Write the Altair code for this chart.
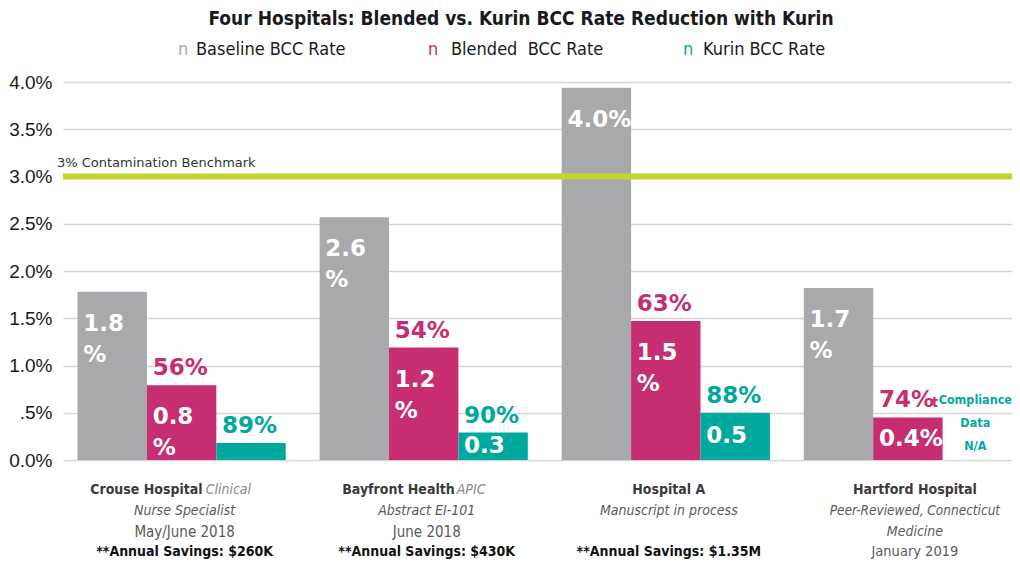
import altair as alt
import pandas as pd

# ---------------- data ----------------
hospitals = ["Crouse Hospital", "Bayfront Health", "Hospital A", "Hartford Hospital"]
series = ["Baseline BCC Rate", "Blended BCC Rate", "Kurin BCC Rate"]
series_colors = ["#a7a9ac", "#c62e71", "#00a99d"]

baseline_rate = [1.78, 2.57, 3.94, 1.82]
blended_rate = [0.79, 1.19, 1.47, 0.45]
kurin_rate = [0.18, 0.29, 0.50, None]

baseline_text = ["1.8\n%", "2.6\n%", "4.0%", "1.7\n%"]
blended_text = ["0.8\n%", "1.2\n%", "1.5\n%", "0.4%"]
kurin_text = ["", "0.3", "0.5", ""]

baseline_reduction = ["", "", "", ""]
blended_reduction = ["56%", "54%", "63%", "74%"]
blended_reduction_tail = ["", "", "", "t"]
kurin_reduction = ["89%", "90%", "88%", ""]
kurin_note = "Compliance\nData\nN/A"

benchmark_value = [3.0]
benchmark_label = ["3% Contamination Benchmark"]

y_tick_values = [0.0, 0.5, 1.0, 1.5, 2.0, 2.5, 3.0, 3.5, 4.0]
y_tick_labels = ["0.0%", ".5%", "1.0%", "1.5%", "2.0%", "2.5%", "3.0%", "3.5%", "4.0%"]

title_text = "Four Hospitals: Blended vs. Kurin BCC Rate Reduction with Kurin"
legend_labels = ["Baseline BCC Rate", "Blended\u00a0 BCC Rate", "Kurin BCC Rate"]
legend_marker = "n"

line1_bold = ["Crouse Hospital", "Bayfront Health", "Hospital A", "Hartford Hospital"]
line1_italic = ["Clinical", "APIC", "", ""]
line2_italic = ["Nurse Specialist", "Abstract EI-101", "Manuscript in process", "Peer-Reviewed, Connecticut"]
line3_regular = ["May/June 2018", "June 2018", "", ""]
line3_italic = ["", "", "", "Medicine"]
line4_bold = ["**Annual Savings: $260K", "**Annual Savings: $430K", "**Annual Savings: $1.35M", ""]
line4_regular = ["", "", "", "January 2019"]

# ---------------- long table ----------------
rows = []
for i, h in enumerate(hospitals):
    for s, vals, ins, red, tail in zip(
        series,
        [baseline_rate, blended_rate, kurin_rate],
        [baseline_text, blended_text, kurin_text],
        [baseline_reduction, blended_reduction, kurin_reduction],
        [["", "", "", ""], blended_reduction_tail, ["", "", "", ""]],
    ):
        rows.append({"hospital": h, "series": s, "value": vals[i],
                     "inside": ins[i], "reduction": red[i], "tail": tail[i]})
df = pd.DataFrame(rows)

COND = "DejaVu Sans Condensed, Liberation Sans, sans-serif"
ROUND = "DejaVu Sans"

X = alt.X("hospital:N", sort=hospitals, axis=None,
          scale=alt.Scale(domain=hospitals, paddingInner=0.14, paddingOuter=0.03, align=1))
XOFF = alt.XOffset("series:N", sort=series,
                   scale=alt.Scale(domain=series, paddingInner=0, paddingOuter=0))
label_expr = "[" + ",".join("'%s'" % t for t in y_tick_labels) + "][round(datum.value * 2)]"
Y_SCALE = alt.Scale(domain=[0, 4], nice=False, zero=True)
Y_AXIS = alt.Axis(values=y_tick_values, labelExpr=label_expr, grid=True,
                  gridColor="#d6d6d6", gridWidth=1.5, domain=False, ticks=False,
                  labelFont="Liberation Sans", labelFontSize=19, labelColor="#1a1a1a",
                  labelPadding=11, title=None)


def Y(field="value"):
    return alt.Y(field + ":Q", title=None, scale=Y_SCALE, axis=Y_AXIS)


COLOR = alt.Color("series:N", sort=series, legend=None,
                  scale=alt.Scale(domain=series, range=series_colors))

base = alt.Chart(df)

bars = base.mark_bar().encode(x=X, xOffset=XOFF, y=Y(), color=COLOR)

inside_top = base.transform_filter(
    "datum.value >= 0.7 && datum.inside != ''"
).mark_text(align="left", baseline="top", dx=-29, dy=21, font=ROUND, fontWeight="bold",
            fontSize=23, lineBreak="\n", lineHeight=31, color="white").encode(
    x=X, xOffset=XOFF, y=Y(), text="inside:N")

inside_mid = base.transform_filter(
    "datum.value < 0.7 && datum.inside != ''"
).transform_calculate(mid="datum.value / 2").mark_text(
    align="left", baseline="middle", dx=-29, font=ROUND, fontWeight="bold",
    fontSize=23, color="white").encode(
    x=X, xOffset=XOFF, y=Y("mid"), text="inside:N")

reduction = base.transform_filter("datum.reduction != ''").mark_text(
    align="left", baseline="bottom", dx=-29, dy=-5, font=ROUND, fontWeight="bold",
    fontSize=23).encode(x=X, xOffset=XOFF, y=Y(), text="reduction:N", color=COLOR)

reduction_tail = base.transform_filter("datum.tail != ''").mark_text(
    align="left", baseline="bottom", dx=24, dy=-7, font=COND, fontWeight="bold",
    fontSize=14).encode(x=X, xOffset=XOFF, y=Y(), text="tail:N", color=COLOR)

note_df = pd.DataFrame({"hospital": [hospitals[3]], "series": [series[2]], "label": [kurin_note]})
note = alt.Chart(note_df).mark_text(
    align="center", baseline="top", dx=-2, font=COND, fontWeight="bold", fontSize=12.5,
    lineBreak="\n", lineHeight=23, color=series_colors[2]).encode(
    x=X, xOffset=XOFF, y=alt.value(312), text="label:N")

bench_df = pd.DataFrame({"value": benchmark_value, "label": benchmark_label})
bench_rule = alt.Chart(bench_df).mark_rule(color="#c4d62e", strokeWidth=6).encode(y=Y())
bench_text = alt.Chart(bench_df).mark_text(
    align="left", baseline="middle", dy=-14, font=ROUND, fontSize=13, color="#333333").encode(
    x=alt.value(-6), y=Y(), text="label:N")

title = alt.Chart(pd.DataFrame({"t": [title_text]})).mark_text(
    font=COND, fontWeight="bold", fontSize=19, color="#1a1a1a",
    align="center", baseline="middle").encode(x=alt.value(458), y=alt.value(-63), text="t:N")

layers = [bars, inside_top, inside_mid, reduction, reduction_tail, note,
          bench_rule, bench_text, title]

# legend (text markers as in the original)
marker_x = [115, 365, 620]
label_x = [133, 388, 640]
for i, lab in enumerate(legend_labels):
    layers.append(alt.Chart(pd.DataFrame({"t": [legend_marker]})).mark_text(
        font=COND, fontSize=18, color=series_colors[i], align="left", baseline="middle").encode(
        x=alt.value(marker_x[i]), y=alt.value(-32), text="t:N"))
    layers.append(alt.Chart(pd.DataFrame({"t": [lab]})).mark_text(
        font=COND, fontSize=18, color="#1a1a1a", align="left", baseline="middle").encode(
        x=alt.value(label_x[i]), y=alt.value(-32), text="t:N"))


def line_layer(texts, ypix, weight, style, color, size, align="center", dx=3, only=None):
    d = pd.DataFrame({"hospital": hospitals, "label": texts})
    d = d[d["label"] != ""]
    if only is not None:
        d = d[d["hospital"].isin(only)]
    return alt.Chart(d).mark_text(
        font=COND, fontSize=size, fontWeight=weight, fontStyle=style, color=color,
        align=align, baseline="middle", dx=dx).encode(
        x=X, y=alt.value(ypix), text="label:N")


LINE_Y = [408, 429, 450, 470]
layers += [
    line_layer(line1_bold, LINE_Y[0], "bold", "normal", "#3a3a3a", 14, "right", 21, [hospitals[0]]),
    line_layer(line1_italic, LINE_Y[0], "normal", "italic", "#8a8a8a", 14, "left", 24, [hospitals[0]]),
    line_layer(line1_bold, LINE_Y[0], "bold", "normal", "#3a3a3a", 14, "right", 31, [hospitals[1]]),
    line_layer(line1_italic, LINE_Y[0], "normal", "italic", "#8a8a8a", 14, "left", 33, [hospitals[1]]),
    line_layer(line1_bold, LINE_Y[0], "bold", "normal", "#3a3a3a", 14, "center", 3, [hospitals[2]]),
    line_layer(line1_bold, LINE_Y[0], "bold", "normal", "#3a3a3a", 14, "center", 7, [hospitals[3]]),
    line_layer(line2_italic, LINE_Y[1], "normal", "italic", "#5a5a5a", 14, "center", 3, hospitals[:3]),
    line_layer(line2_italic, LINE_Y[1], "normal", "italic", "#5a5a5a", 13.5, "center", 7, [hospitals[3]]),
    line_layer(line3_regular, LINE_Y[2], "normal", "normal", "#5a5a5a", 15),
    line_layer(line3_italic, LINE_Y[2], "normal", "italic", "#5a5a5a", 14, "center", 7),
    line_layer(line4_bold, LINE_Y[3], "bold", "normal", "#111111", 14),
    line_layer(line4_regular, LINE_Y[3], "normal", "normal", "#5a5a5a", 14.5, "center", 7),
]

chart = alt.layer(*layers).properties(
    width=949, height=378,
    background="white",
    autosize=alt.AutoSizeParams(type="none"),
    padding={"left": 55, "top": 74, "right": 0, "bottom": 101},
).configure_view(strokeWidth=0)

chart.save("out.html", embed_options={"renderer": "svg", "actions": False})
